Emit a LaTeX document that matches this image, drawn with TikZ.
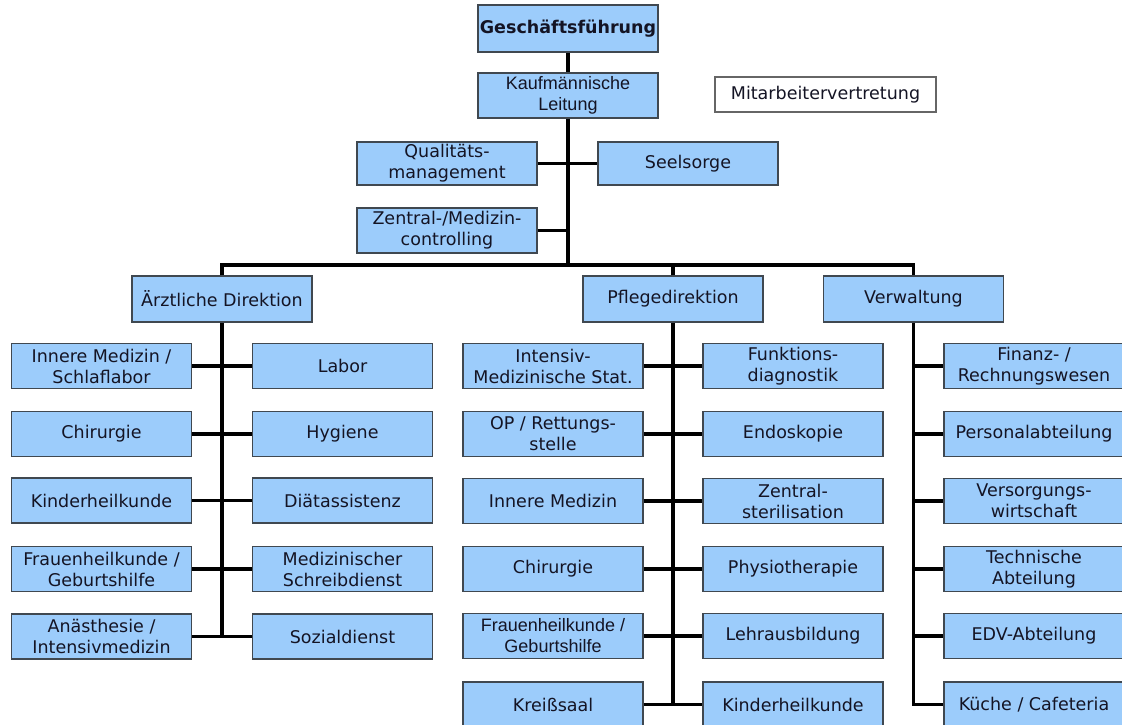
\documentclass[tikz,border=0pt]{standalone}
\usepackage{fontspec}
\setmainfont{DejaVu Sans}
\newfontfamily\arialf{Liberation Sans}
\definecolor{boxblue}{HTML}{9CCCFB}
\definecolor{boxline}{HTML}{404850}
\definecolor{txt}{HTML}{141424}
\tikzset{
  orgbox/.style={draw=boxline, fill=boxblue, line width=1.3pt, minimum width=180pt, minimum height=45pt,
    inner sep=0pt, align=center, text=txt, font=\fontsize{17.5}{21}\selectfont},
  narrowtxt/.style={font=\arialf\fontsize{18}{21}\selectfont},
  whitebox/.style={draw=gray!80!black, fill=white, line width=1.2pt, minimum width=221pt, minimum height=35pt,
    inner sep=0pt, text=txt, font=\fontsize{17.5}{21}\selectfont},
  conn/.style={draw=black, line width=3.5pt, line join=miter}
}
\begin{document}
\begin{tikzpicture}[x=1pt,y=-1pt]
\clip (0,0) rectangle (1122,724);
\fill[white] (0,0) rectangle (1122,724);

% top
\node[orgbox, minimum height=47pt, font=\bfseries\fontsize{17.5}{21}\selectfont] (gf) at (568,28.5) {Geschäftsführung};
\node[orgbox, narrowtxt] (kl) at (568,95.5) {Kaufmännische\\Leitung};
\node[whitebox] (mv) at (825.5,94.5) {Mitarbeitervertretung};
\node[orgbox, minimum height=43pt] (qm) at (447,163.5) {Qualitäts-\\management};
\node[orgbox, minimum height=43pt] (ss) at (688,163.5) {Seelsorge};
\node[orgbox] (zm) at (447,230.5) {Zentral-/Medizin-\\controlling};

% second level
\node[orgbox, minimum height=46pt] (ad) at (222,299) {Ärztliche Direktion};
\node[orgbox, minimum height=46pt] (pd) at (673,299) {Pflegedirektion};
\node[orgbox, minimum height=46pt] (vw) at (913.5,299) {Verwaltung};
\coordinate (bar) at (568,265);

% Ärztliche Direktion children
\node[orgbox] (a1) at (101.5,366) {Innere Medizin /\\Schlaflabor};
\node[orgbox] (a2) at (101.5,434) {Chirurgie};
\node[orgbox] (a3) at (101.5,500.5) {Kinderheilkunde};
\node[orgbox] (a4) at (101.5,569) {Frauenheilkunde /\\Geburtshilfe};
\node[orgbox] (a5) at (101.5,636.5) {Anästhesie /\\Intensivmedizin};
\node[orgbox] (b1) at (342.5,366) {Labor};
\node[orgbox] (b2) at (342.5,434) {Hygiene};
\node[orgbox] (b3) at (342.5,500.5) {Diätassistenz};
\node[orgbox] (b4) at (342.5,569) {Medizinischer\\Schreibdienst};
\node[orgbox] (b5) at (342.5,636.5) {Sozialdienst};

% Pflegedirektion children
\node[orgbox] (p1) at (553,366) {Intensiv-\\Medizinische Stat.};
\node[orgbox] (p2) at (553,434) {OP / Rettungs-\\stelle};
\node[orgbox] (p3) at (553,501) {Innere Medizin};
\node[orgbox] (p4) at (553,569) {Chirurgie};
\node[orgbox, narrowtxt] (p5) at (553,636) {Frauenheilkunde /\\Geburtshilfe};
\node[orgbox] (p6) at (553,704.5) {Kreißsaal};
\node[orgbox] (q1) at (793,366) {Funktions-\\diagnostik};
\node[orgbox] (q2) at (793,434) {Endoskopie};
\node[orgbox] (q3) at (793,501) {Zentral-\\sterilisation};
\node[orgbox] (q4) at (793,569) {Physiotherapie};
\node[orgbox] (q5) at (793,636) {Lehrausbildung};
\node[orgbox] (q6) at (793,704.5) {Kinderheilkunde};

% Verwaltung children
\node[orgbox] (v1) at (1034,366) {Finanz- /\\Rechnungswesen};
\node[orgbox] (v2) at (1034,434) {Personalabteilung};
\node[orgbox] (v3) at (1034,501) {Versorgungs-\\wirtschaft};
\node[orgbox] (v4) at (1034,569) {Technische\\Abteilung};
\node[orgbox] (v5) at (1034,636) {EDV-Abteilung};
\node[orgbox] (v6) at (1034,704.5) {Küche / Cafeteria};

% connectors: top trunk
\draw[conn] (gf.south) -- (kl.north);
\draw[conn] (kl.south) -- (bar);
\draw[conn] (qm.east) -- (ss.west);
\draw[conn] (zm.east) -- (zm.east -| bar);
\draw[conn] (ad.north) |- (bar) -| (vw.north);
\draw[conn] (pd.north) -- (pd.north |- bar);

% Ärztliche
\draw[conn] (ad.south) -- (ad.south |- a5.east);
\foreach \i in {1,...,5} { \draw[conn] (a\i.east) -- (b\i.west); }

% Pflege
\draw[conn] (pd.south) -- (pd.south |- p6.east);
\foreach \i in {1,...,6} { \draw[conn] (p\i.east) -- (q\i.west); }

% Verwaltung
\draw[conn] (vw.south) |- (v6.west);
\foreach \i in {1,...,5} { \draw[conn] (vw.south |- v\i.west) -- (v\i.west); }
\end{tikzpicture}
\end{document}
